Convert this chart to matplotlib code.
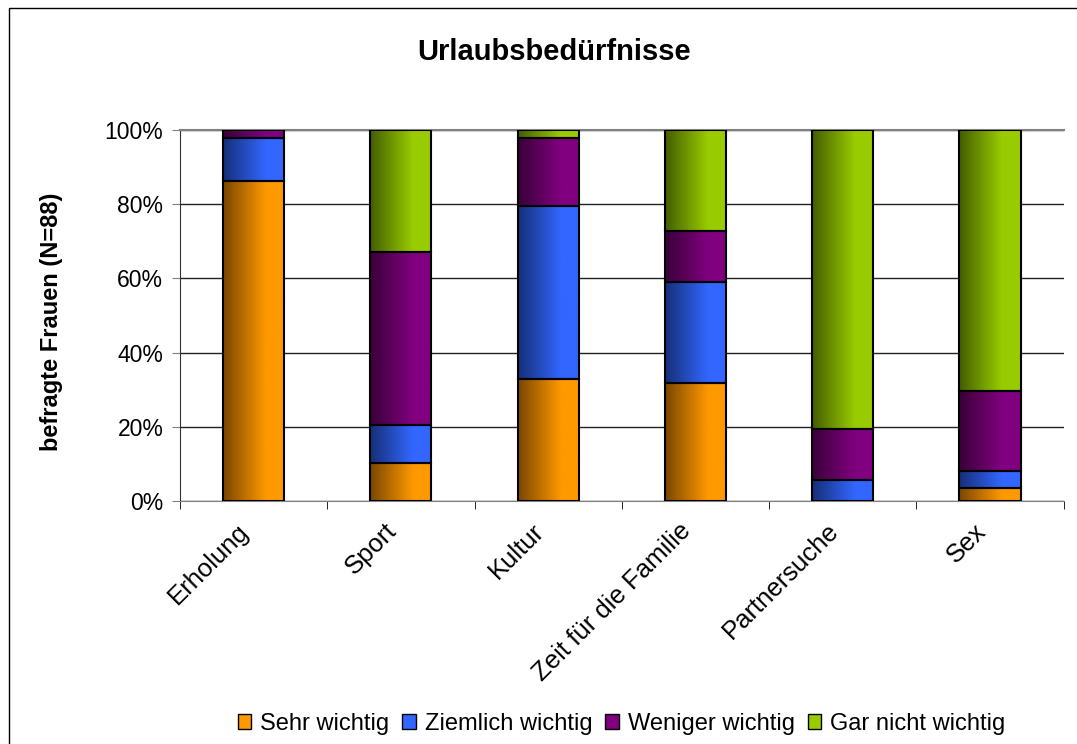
import matplotlib.pyplot as plt
import numpy as np
import matplotlib.transforms as mtransforms
from matplotlib.colors import LinearSegmentedColormap
from matplotlib.patches import Rectangle, Patch

plt.rcParams['font.family'] = ['Liberation Sans', 'DejaVu Sans']

# survey data: number of women (N=88) per answer
categories = ["Erholung", "Sport", "Kultur", "Zeit für die Familie", "Partnersuche", "Sex"]
sehr = [76, 9, 29, 28, 0, 3]
ziemlich = [10, 9, 41, 24, 5, 4]
weniger = [2, 41, 16, 12, 12, 19]
gar_nicht = [0, 29, 2, 24, 71, 62]
series_names = ["Sehr wichtig", "Ziemlich wichtig", "Weniger wichtig", "Gar nicht wichtig"]
N = 88

# dark and bright colour for the Excel-like gradient
colors = [("#7a4700", "#ff9900"), ("#152f78", "#3366ff"),
          ("#3a0038", "#800080"), ("#445e00", "#99cc00")]

fig = plt.figure(figsize=(10.77, 7.44), dpi=100)
ax = fig.add_axes([0.1671, 0.3266, 0.8205, 0.4987])

# border around the chart area
fig.patches.append(Rectangle((9 / 1077, -0.01), 1.1, 736 / 744 + 0.01, transform=fig.transFigure,
                             fill=False, edgecolor="black", linewidth=1.0))

width = 0.415
x = np.arange(len(categories))
grad = np.linspace(0, 1, 100).reshape(1, -1)
grad = np.clip(grad / 0.7, 0, 1)

bottom = np.zeros(len(categories))
for vals, (dark, bright) in zip([sehr, ziemlich, weniger, gar_nicht], colors):
    pct = np.array(vals) / N * 100
    cmap = LinearSegmentedColormap.from_list("g", [dark, bright])
    for i in range(len(categories)):
        if pct[i] <= 0:
            continue
        x0 = x[i] - width / 2
        ax.imshow(grad, cmap=cmap, aspect="auto", extent=(x0, x0 + width, bottom[i], bottom[i] + pct[i]),
                  zorder=2, interpolation="bilinear", vmin=0, vmax=1)
        ax.add_patch(Rectangle((x0, bottom[i]), width, pct[i], fill=False,
                               edgecolor="black", linewidth=1.5, zorder=3))
    bottom += pct

ax.set_xlim(-0.5, len(categories) - 0.5)
ax.set_ylim(0, 100)
ax.set_yticks(np.arange(0, 101, 20))
ax.set_yticklabels([f"{v}%" for v in range(0, 101, 20)], fontsize=16.5)
ax.yaxis.grid(True, color="#222222", linewidth=1.0, zorder=0)
ax.set_axisbelow(True)

ax.set_xticks(x)
ax.set_xticklabels(categories, rotation=45, ha="right", va="center", rotation_mode="anchor", fontsize=18.5)
ax.set_xticks(np.arange(-0.5, len(categories), 1), minor=True)
ax.tick_params(axis="x", which="major", length=0, pad=19)
ax.tick_params(axis="x", which="minor", length=6, color="black")
ax.tick_params(axis="y", length=6, color="gray", pad=6)
shift = mtransforms.ScaledTranslation(-8 / 100, 0, fig.dpi_scale_trans)
for lab in ax.get_xticklabels():
    lab.set_transform(lab.get_transform() + shift)

ax.spines["right"].set_visible(False)
ax.spines["top"].set_color("gray")
ax.spines["left"].set_color("#333333")
ax.spines["bottom"].set_color("gray")
ax.spines["top"].set_linewidth(1.5)

fig.text(52 / 1077, 0.568, "befragte Frauen (N=88)", rotation=90, ha="center", va="center",
         fontsize=17, fontweight="bold")
fig.text(0.514, 0.930, "Urlaubsbedürfnisse", ha="center", va="center", fontsize=21, fontweight="bold")

handles = [Patch(facecolor=b, edgecolor="black", linewidth=1.0) for d, b in colors]
fig.legend(handles, series_names, loc="center", bbox_to_anchor=(0.577, 0.027), ncol=4, frameon=False,
           fontsize=17, handlelength=0.57, handleheight=0.57, handletextpad=0.38, columnspacing=0.55,
           borderpad=0.1)

plt.savefig("out.png", dpi=100)
